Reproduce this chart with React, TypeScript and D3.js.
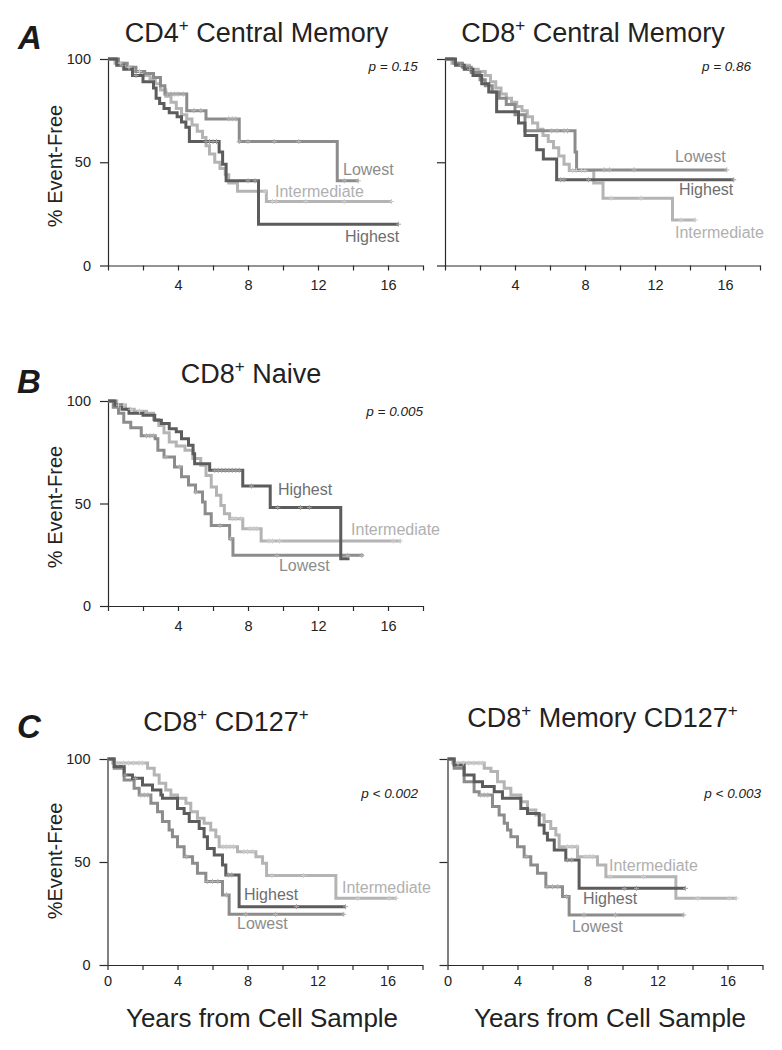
import React, { useEffect, useRef } from 'react';
import * as d3 from 'd3';

// ---------- Panel A left: CD4+ Central Memory ----------
const cd4cmHighT = [0, 0.5, 0.9, 1.4, 2.0, 2.6, 2.75, 2.95, 3.2, 3.5, 3.95, 4.2, 4.45, 4.65, 6.35, 6.55, 6.75, 8.6];
const cd4cmHighS = [100, 97, 95, 92, 89, 86, 81, 78.5, 76, 74, 72, 69.5, 67, 60, 55, 49, 41, 20];
const cd4cmHighEnd = 16.6;
const cd4cmHighCens = [0.8, 1.6, 5.6, 5.8, 6.0, 6.2, 8.0, 8.4, 16.6];
const cd4cmLowT = [0, 0.6, 1.1, 1.6, 2.1, 2.6, 3.0, 3.25, 4.5, 5.6, 7.5, 13.1];
const cd4cmLowS = [100, 98, 96, 94, 93, 91, 87, 83, 75, 71, 60, 41];
const cd4cmLowEnd = 14.3;
const cd4cmLowCens = [3.4, 3.6, 3.8, 4.0, 4.3, 4.9, 5.3, 6.9, 7.1, 7.3, 7.5, 8.0, 9.5, 10.9, 13.5, 14.3];
const cd4cmIntT = [0, 0.4, 0.9, 1.4, 1.9, 2.4, 2.7, 3.0, 3.3, 3.6, 3.9, 4.2, 4.5, 4.8, 5.1, 5.4, 5.6, 5.8, 6.1, 6.4, 6.7, 6.9, 7.4, 9.05];
const cd4cmIntS = [100, 98, 96, 94, 92, 90.5, 88, 85, 82, 79, 76, 73, 71, 68, 65, 62, 58, 54, 50, 47, 44, 40, 36, 31];
const cd4cmIntEnd = 16.2;
const cd4cmIntCens = [0.7, 1.2, 1.8, 9.0, 9.4, 9.6, 11.3, 13.5, 16.2];

// ---------- Panel A right: CD8+ Central Memory ----------
const cd8cmHighT = [0, 0.6, 1.1, 1.6, 2.1, 2.5, 2.95, 4.2, 4.57, 5.24, 5.62, 6.38];
const cd8cmHighS = [100, 97, 95, 92, 88, 84, 74.5, 69, 63, 56, 51.6, 41.5];
const cd8cmHighEnd = 16.5;
const cd8cmHighCens = [0.9, 1.4, 6.6, 6.8, 8.2, 16.5];
const cd8cmLowT = [0, 0.5, 1.0, 1.5, 2.0, 2.3, 2.7, 3.1, 3.5, 4.0, 4.57, 7.43, 7.52];
const cd8cmLowS = [100, 98, 96, 93.5, 90, 87, 84, 81, 78, 73, 65.2, 55, 46.3];
const cd8cmLowEnd = 16.1;
const cd8cmLowCens = [6.1, 6.4, 6.8, 7.0, 9.1, 9.4, 10.8, 16.1];
const cd8cmIntT = [0, 0.4, 0.9, 1.4, 1.9, 2.3, 2.6, 2.9, 3.2, 3.5, 3.8, 4.1, 4.4, 4.7, 5.0, 5.3, 5.6, 5.9, 6.2, 6.5, 6.8, 7.1, 8.5, 9.03, 13.0];
const cd8cmIntS = [100, 98, 97, 95, 94, 92, 89, 86, 83, 81, 79, 77, 75, 72, 69, 66, 63, 60, 57, 53, 49, 46, 40, 32.6, 22];
const cd8cmIntEnd = 14.3;
const cd8cmIntCens = [7.3, 7.5, 7.8, 8.0, 9.5, 11.2, 13.5, 14.3];

// ---------- Panel B: CD8+ Naive ----------
const naiveHighT = [0, 0.4, 0.8, 1.2, 2.0, 2.67, 3.05, 3.5, 3.9, 4.2, 4.6, 4.86, 4.95, 5.81, 7.7, 9.27, 13.3];
const naiveHighS = [100, 98, 96, 94, 93, 90.6, 89, 86.5, 85, 81.6, 78.4, 74.3, 69.4, 66.2, 58.5, 48, 23];
const naiveHighEnd = 13.8;
const naiveHighCens = [6.1, 6.3, 6.5, 6.7, 6.9, 7.1, 7.3, 7.5, 8.2, 9.7, 11.0, 11.5];
const naiveLowT = [0, 0.3, 0.6, 0.9, 1.3, 1.9, 2.7, 2.85, 3.2, 3.8, 4.2, 4.6, 5.0, 5.4, 5.55, 5.9, 6.95, 7.14];
const naiveLowS = [100, 97, 94, 89.6, 87, 83, 81.6, 76, 72.7, 67.8, 63, 59, 55.6, 50.7, 45, 39.3, 32.8, 24.7];
const naiveLowEnd = 14.6;
const naiveLowCens = [2.2, 2.4, 2.6, 3.3, 4.1, 5.0, 6.4, 7.0, 9.65, 13.7, 14.5];
const naiveIntT = [0, 0.5, 1.0, 1.5, 2.2, 2.6, 2.9, 3.2, 3.5, 3.9, 4.4, 4.85, 5.3, 5.6, 5.9, 6.2, 6.45, 6.65, 6.95, 7.7, 8.75];
const naiveIntS = [100, 98, 96, 95, 94, 91, 88, 84.5, 80, 78, 76, 72, 68.6, 63.7, 58, 54, 49, 45, 42.6, 37.7, 31.7];
const naiveIntEnd = 16.75;
const naiveIntCens = [0.6, 0.9, 1.3, 1.8, 7.1, 7.3, 7.6, 8.1, 8.3, 8.5, 9.2, 9.4, 9.8, 16.3, 16.7];

// ---------- Panel C left: CD8+ CD127+ ----------
const cd127HighT = [0, 0.38, 0.95, 1.43, 2.0, 2.57, 3.05, 3.14, 4.0, 4.38, 4.67, 5.24, 5.52, 5.71, 6.1, 6.57, 6.76, 7.52];
const cd127HighS = [100, 96.3, 92.2, 90.6, 87.4, 85, 82.5, 80.9, 76, 73.6, 69.6, 66.3, 62.3, 56.6, 53.4, 48.5, 43.7, 28.3];
const cd127HighEnd = 13.6;
const cd127HighCens = [1.0, 1.6, 6.9, 7.1, 10.8, 13.6];
const cd127LowT = [0, 0.38, 0.95, 1.52, 1.81, 2.48, 2.86, 3.14, 3.52, 3.71, 4.0, 4.38, 4.86, 5.14, 5.62, 6.57, 6.95];
const cd127LowS = [100, 95.5, 89.8, 85.8, 82.5, 78.5, 74.4, 69.6, 65.5, 62.3, 57.4, 52.6, 49.4, 44.5, 40.5, 34, 24.6];
const cd127LowEnd = 13.52;
const cd127LowCens = [1.9, 2.1, 2.3, 4.5, 5.7, 6.0, 6.3, 6.8, 7.9, 9.6, 13.5];
const cd127IntT = [0, 0.3, 2.29, 2.67, 2.95, 3.33, 3.62, 4.0, 4.48, 4.76, 5.14, 5.52, 5.9, 6.19, 6.38, 7.43, 8.48, 8.86, 9.09, 13.05];
const cd127IntS = [100, 98, 95.5, 92.2, 88.2, 85, 82.5, 80.9, 78.5, 74.4, 71.2, 68.8, 65.5, 62.3, 57.4, 55, 52.6, 49.4, 43.4, 32.4];
const cd127IntEnd = 16.5;
const cd127IntCens = [0.6, 0.9, 1.2, 1.5, 1.8, 2.0, 6.6, 6.8, 7.0, 7.2, 7.8, 8.0, 8.3, 9.4, 11.2, 14.3, 16.1, 16.5];

// ---------- Panel C right: CD8+ Memory CD127+ ----------
const mem127HighT = [0, 0.38, 0.95, 1.52, 2.0, 2.67, 3.14, 4.19, 4.57, 5.24, 5.52, 5.71, 6.1, 6.76, 7.52];
const mem127HighS = [100, 97.1, 92.2, 89, 86.6, 84.1, 80.9, 76, 73.6, 68, 63.9, 60.7, 55.8, 51, 37.2];
const mem127HighEnd = 13.6;
const mem127HighCens = [6.85, 7.1, 10.1, 10.8, 13.6];
const mem127LowT = [0, 0.38, 0.95, 1.52, 1.81, 2.57, 2.95, 3.24, 3.43, 3.62, 4.0, 4.38, 4.76, 5.14, 5.62, 6.57, 6.95];
const mem127LowS = [100, 95.5, 89, 84.1, 82.5, 76.9, 72.8, 68.8, 65.5, 62.3, 57.4, 52.6, 48.5, 44.5, 38, 33.2, 24.3];
const mem127LowEnd = 13.52;
const mem127LowCens = [1.9, 2.1, 2.3, 4.5, 5.7, 6.0, 6.3, 6.8, 7.8, 9.6, 13.5];
const mem127IntT = [0, 0.3, 2.1, 2.48, 2.86, 3.24, 3.62, 4.19, 4.57, 5.05, 5.52, 5.9, 6.19, 6.38, 7.43, 8.57, 9.05, 13.05];
const mem127IntS = [100, 98, 95.5, 93.9, 89, 85.8, 82.5, 79.3, 75.2, 72.8, 69.6, 66.3, 63.1, 57.4, 52.6, 48.5, 42.9, 32.4];
const mem127IntEnd = 16.5;
const mem127IntCens = [0.6, 0.9, 1.2, 1.5, 1.8, 2.0, 6.85, 7.1, 7.4, 7.9, 8.1, 8.3, 9.3, 11.2, 14.3, 16.1, 16.5];

// ---------- Labels / ticks ----------
const groupNames = ['Highest', 'Lowest', 'Intermediate'];
const xTickValues = [0, 2, 4, 6, 8, 10, 12, 14, 16, 18];
const xLabelledTicks = [4, 8, 12, 16];
const yTickValues = [0, 50, 100];
const pValues = ['p = 0.15', 'p = 0.86', 'p = 0.005', 'p < 0.002', 'p < 0.003'];
const panelTitles = ['CD4', 'CD8', 'CD8', 'CD8', 'CD8'];
const panelTitleRest = [' Central Memory', ' Central Memory', ' Naive', ' CD127', ' Memory CD127'];

const FONT = "'Liberation Sans', Arial, Helvetica, sans-serif";
const COLORS: Record<string, string> = { Highest: '#5c5c5c', Lowest: '#8c8c8c', Intermediate: '#b4b4b4' };
const CENS: Record<string, string> = { Highest: '#a3a3a3', Lowest: '#b3b3b3', Intermediate: '#cdcdcd' };
const TEXTC: Record<string, string> = { Highest: '#6e6e6e', Lowest: '#8c8c8c', Intermediate: '#b0b0b0' };

type Series = { name: string; t: number[]; s: number[]; end: number; cens: number[] };

function mk(name: string, t: number[], s: number[], end: number, cens: number[]): Series {
  return { name, t, s, end, cens };
}

export default function App() {
  const ref = useRef<SVGSVGElement>(null);

  useEffect(() => {
    const svg = d3.select(ref.current);
    svg.selectAll('*').remove();

    const panels = [
      {
        x0: 108, y100: 59, y0: 265.5, yLabels: true, zeroLabel: false, tickPad: 9,
        series: [
          mk('Intermediate', cd4cmIntT, cd4cmIntS, cd4cmIntEnd, cd4cmIntCens),
          mk('Lowest', cd4cmLowT, cd4cmLowS, cd4cmLowEnd, cd4cmLowCens),
          mk('Highest', cd4cmHighT, cd4cmHighS, cd4cmHighEnd, cd4cmHighCens),
        ],
        labels: { Lowest: [13.43, 43.8], Intermediate: [9.54, 33.2], Highest: [13.54, 11.4] },
        p: pValues[0], pPos: [17.7, 94.2],
        title: [panelTitles[0], panelTitleRest[0]], titlePos: [256.5, 42],
        letter: 'A', letterPos: [18, 49],
        yTitle: '% Event-Free', yTitlePos: [62, 166],
      },
      {
        x0: 445, y100: 59, y0: 265.5, yLabels: false, zeroLabel: false, tickPad: 9,
        series: [
          mk('Intermediate', cd8cmIntT, cd8cmIntS, cd8cmIntEnd, cd8cmIntCens),
          mk('Lowest', cd8cmLowT, cd8cmLowS, cd8cmLowEnd, cd8cmLowCens),
          mk('Highest', cd8cmHighT, cd8cmHighS, cd8cmHighEnd, cd8cmHighCens),
        ],
        labels: { Lowest: [13.14, 50.1], Highest: [13.37, 34.1], Intermediate: [13.14, 13.3] },
        p: pValues[1], pPos: [17.49, 94.2],
        title: [panelTitles[1], panelTitleRest[1]], titlePos: [593, 42],
      },
      {
        x0: 108, y100: 401, y0: 606, yLabels: true, zeroLabel: false, tickPad: 10,
        series: [
          mk('Intermediate', naiveIntT, naiveIntS, naiveIntEnd, naiveIntCens),
          mk('Lowest', naiveLowT, naiveLowS, naiveLowEnd, naiveLowCens),
          mk('Highest', naiveHighT, naiveHighS, naiveHighEnd, naiveHighCens),
        ],
        labels: { Highest: [9.71, 54.1], Intermediate: [13.89, 34.6], Lowest: [9.77, 17.1] },
        p: pValues[2], pPos: [18.0, 92.7],
        title: [panelTitles[2], panelTitleRest[2]], titlePos: [251, 383],
        letter: 'B', letterPos: [17, 393],
        yTitle: '% Event-Free', yTitlePos: [62, 507],
      },
      {
        x0: 107.5, y100: 759, y0: 965, yLabels: true, zeroLabel: true, tickPad: 6,
        series: [
          mk('Intermediate', cd127IntT, cd127IntS, cd127IntEnd, cd127IntCens),
          mk('Lowest', cd127LowT, cd127LowS, cd127LowEnd, cd127LowCens),
          mk('Highest', cd127HighT, cd127HighS, cd127HighEnd, cd127HighCens),
        ],
        labels: { Intermediate: [13.4, 35.0], Highest: [7.8, 31.6], Lowest: [7.4, 17.5] },
        p: pValues[3], pPos: [17.74, 81.1],
        title: [panelTitles[3], panelTitleRest[3], true], titlePos: [226, 731],
        letter: 'C', letterPos: [17, 738],
        yTitle: '%Event-Free', yTitlePos: [62, 861],
        xTitle: 'Years from Cell Sample', xTitlePos: [262, 1027],
      },
      {
        x0: 447.5, y100: 759, y0: 965, yLabels: false, zeroLabel: true, tickPad: 6,
        series: [
          mk('Intermediate', mem127IntT, mem127IntS, mem127IntEnd, mem127IntCens),
          mk('Lowest', mem127LowT, mem127LowS, mem127LowEnd, mem127LowCens),
          mk('Highest', mem127HighT, mem127HighS, mem127HighEnd, mem127HighCens),
        ],
        labels: { Intermediate: [9.23, 45.6], Highest: [7.74, 29.6], Lowest: [7.11, 16.0] },
        p: pValues[4], pPos: [17.91, 81.1],
        title: [panelTitles[4], panelTitleRest[4], true], titlePos: [602.5, 727],
        xTitle: 'Years from Cell Sample', xTitlePos: [610, 1027],
      },
    ];

    panels.forEach((P: any) => {
      const x = d3.scaleLinear().domain([0, 18]).range([P.x0, P.x0 + 315]);
      const y = d3.scaleLinear().domain([0, 100]).range([P.y0, P.y100]);
      const g = svg.append('g');

      // axes
      const xAxis = d3.axisBottom(x)
        .tickValues(xTickValues)
        .tickSize(5)
        .tickSizeOuter(0)
        .tickPadding(P.tickPad)
        .tickFormat((d: any) => (xLabelledTicks.includes(d) || (P.zeroLabel && d === 0) ? String(d) : ''));
      const xg = g.append('g').attr('transform', `translate(0,${P.y0})`).call(xAxis as any);
      const yAxis = d3.axisLeft(y)
        .tickValues(yTickValues)
        .tickSize(8)
        .tickSizeOuter(0)
        .tickPadding(9)
        .tickFormat((d: any) => (P.yLabels ? String(d) : ''));
      const yg = g.append('g').attr('transform', `translate(${P.x0},0)`).call(yAxis as any);
      [xg, yg].forEach((a) => {
        a.attr('font-family', FONT).attr('font-size', 14.5);
        a.selectAll('path,line').attr('stroke', '#2a2a2a').attr('stroke-width', 1.2);
        a.selectAll('text').attr('fill', '#222');
      });

      // curves
      const line = d3.line<[number, number]>()
        .x((d) => x(d[0]))
        .y((d) => y(d[1]))
        .curve(d3.curveStepAfter);
      P.series.forEach((S: Series) => {
        const pts: [number, number][] = S.t.map((t, i) => [t, S.s[i]] as [number, number]);
        pts.push([S.end, S.s[S.s.length - 1]]);
        g.append('path')
          .attr('d', line(pts) as string)
          .attr('fill', 'none')
          .attr('stroke', COLORS[S.name])
          .attr('stroke-width', 3)
          .attr('stroke-linejoin', 'miter');
      });
      P.series.forEach((S: Series) => {
        S.cens.forEach((c) => {
          const i = Math.max(0, d3.bisectRight(S.t, c) - 1);
          const px = x(c);
          const py = y(S.s[i]);
          g.append('path')
            .attr('d', `M${px - 2.5},${py}h5M${px},${py - 2.5}v5`)
            .attr('stroke', CENS[S.name])
            .attr('stroke-width', 1);
        });
      });

      // group labels
      groupNames.forEach((name) => {
        const pos = P.labels[name];
        g.append('text')
          .attr('x', x(pos[0]))
          .attr('y', y(pos[1]))
          .attr('font-family', FONT)
          .attr('font-size', 16)
          .attr('fill', TEXTC[name])
          .text(name);
      });

      // p value
      g.append('text')
        .attr('x', x(P.pPos[0]))
        .attr('y', y(P.pPos[1]))
        .attr('text-anchor', 'end')
        .attr('font-family', FONT)
        .attr('font-style', 'italic')
        .attr('font-size', 13.5)
        .attr('fill', '#222')
        .text(P.p);

      // title with superscripts
      const tt = g.append('text')
        .attr('x', P.titlePos[0])
        .attr('y', P.titlePos[1])
        .attr('text-anchor', 'middle')
        .attr('font-family', FONT)
        .attr('font-size', 27)
        .attr('fill', '#222');
      tt.append('tspan').text(P.title[0]);
      tt.append('tspan').attr('font-size', 17).attr('dy', -11).text('+');
      tt.append('tspan').attr('dy', 11).text(P.title[1]);
      if (P.title[2]) {
        tt.append('tspan').attr('font-size', 17).attr('dy', -11).text('+');
      }

      if (P.letter) {
        g.append('text')
          .attr('x', P.letterPos[0])
          .attr('y', P.letterPos[1])
          .attr('font-family', FONT)
          .attr('font-weight', 'bold')
          .attr('font-style', 'italic')
          .attr('font-size', 33)
          .attr('fill', '#1a1a1a')
          .text(P.letter);
      }
      if (P.yTitle) {
        g.append('text')
          .attr('transform', `translate(${P.yTitlePos[0]},${P.yTitlePos[1]}) rotate(-90)`)
          .attr('text-anchor', 'middle')
          .attr('font-family', FONT)
          .attr('font-size', 20)
          .attr('fill', '#222')
          .text(P.yTitle);
      }
      if (P.xTitle) {
        g.append('text')
          .attr('x', P.xTitlePos[0])
          .attr('y', P.xTitlePos[1])
          .attr('text-anchor', 'middle')
          .attr('font-family', FONT)
          .attr('font-size', 26)
          .attr('fill', '#222')
          .text(P.xTitle);
      }
    });
  }, []);

  return (
    <svg
      ref={ref}
      width={782}
      height={1050}
      style={{ position: 'absolute', left: 0, top: 0, background: '#fff' }}
    />
  );
}
